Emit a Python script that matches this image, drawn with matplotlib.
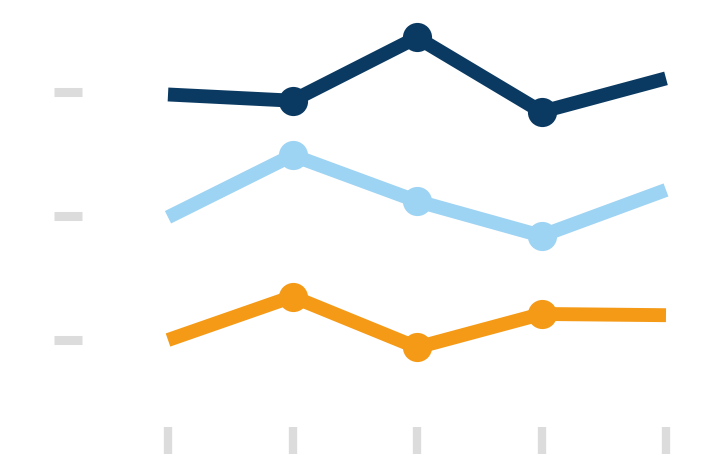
import matplotlib
matplotlib.use("Agg")
import matplotlib.pyplot as plt

# Five periods, three series
periods = [0, 1, 2, 3, 4]
series_top = [2.98, 2.93, 3.44, 2.84, 3.11]
series_mid = [1.99, 2.49, 2.12, 1.84, 2.21]
series_low = [1.00, 1.35, 0.94, 1.21, 1.20]
y_ticks = [1, 2, 3]

colors = {"top": "#0a3a62", "mid": "#9dd3f3", "low": "#f49a16"}
tick_gray = "#dcdcdc"

W, H, DPI = 707, 460, 100
fig = plt.figure(figsize=(W / DPI, H / DPI), dpi=DPI)

# axes box in pixel terms (left, top, right, bottom measured from the top-left)
left_px, top_px, right_px, bottom_px = 82, 10, 695, 428
ax = fig.add_axes([left_px / W, (H - bottom_px) / H,
                   (right_px - left_px) / W, (bottom_px - top_px) / H])

# data scales in pixels per unit
x0_px, x_step = 168, 124.5
y1_px, y_step = 341, 124
ax.set_xlim((left_px - x0_px) / x_step, (right_px - x0_px) / x_step)
ax.set_ylim(1 + (y1_px - bottom_px) / y_step, 1 + (y1_px - top_px) / y_step)

for key, vals in (("top", series_top), ("mid", series_mid), ("low", series_low)):
    ax.plot(periods, vals, color=colors[key], lw=10, solid_capstyle="butt",
            solid_joinstyle="round", marker="o", markersize=21,
            markevery=[1, 2, 3], markeredgewidth=0)

ax.set_xticks(periods)
ax.set_yticks(y_ticks)
ax.set_xticklabels([])
ax.set_yticklabels([])
ax.tick_params(axis="x", direction="out", length=19.5, width=6, color=tick_gray)
ax.tick_params(axis="y", direction="out", length=20, width=6.5, color=tick_gray)
for s in ax.spines.values():
    s.set_visible(False)
ax.patch.set_alpha(0)

fig.savefig("out.png", dpi=DPI, facecolor="white")
